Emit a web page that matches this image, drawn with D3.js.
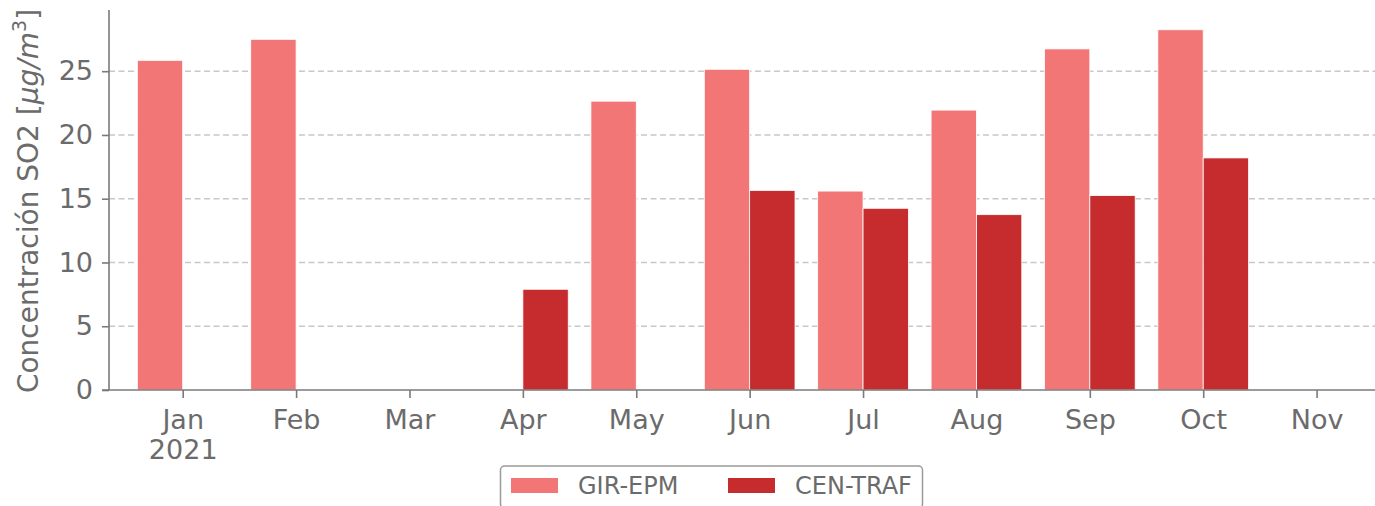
<!DOCTYPE html>
<html>
<head>
<meta charset="utf-8">
<script src="https://d3js.org/d3.v7.min.js"></script>
<style>
  body { margin: 0; background: #fff; }
  text { font-family: "DejaVu Sans", sans-serif; fill: #6b6b6b; }
</style>
</head>
<body>
<svg width="1375" height="506"></svg>
<script>
// monthly SO2 means per station, null = no data
var months = ["Jan", "Feb", "Mar", "Apr", "May", "Jun", "Jul", "Aug", "Sep", "Oct", "Nov"];
var girEpm  = [25.85, 27.5, null, null, 22.65, 25.15, 15.6, 21.95, 26.75, 28.25, null];
var cenTraf = [null, null, null, 7.9, null, 15.65, 14.25, 13.75, 15.25, 18.2, null];
var yTicks = [0, 5, 10, 15, 20, 25];
var seriesNames = ["GIR-EPM", "CEN-TRAF"];
var seriesColors = ["#f37676", "#c62c2d"];

var svg = d3.select("svg");
var plotL = 109, plotR = 1375, plotT = 10, plotB = 390;

// month index -> pixel (categorical spacing)
var x = d3.scaleLinear().domain([-0.65, 10.515]).range([plotL, plotR]);
var y = d3.scaleLinear().domain([0, 29.8]).range([plotB, plotT]);
var barW = 0.4;

// grid
svg.append("g").selectAll("line").data(yTicks.slice(1)).enter().append("line")
    .attr("x1", plotL).attr("x2", plotR)
    .attr("y1", function (d) { return y(d); }).attr("y2", function (d) { return y(d); })
    .attr("stroke", "#c8c8c8").attr("stroke-width", 1.5)
    .attr("stroke-dasharray", "6,3.5");

// bars
[girEpm, cenTraf].forEach(function (vals, s) {
    svg.append("g").selectAll("rect")
        .data(vals.map(function (v, i) { return {i: i, v: v}; }).filter(function (d) { return d.v != null; }))
        .enter().append("rect")
        .attr("x", function (d) { return x(d.i + (s === 0 ? -barW : 0)); })
        .attr("width", x(barW) - x(0))
        .attr("y", function (d) { return y(d.v); })
        .attr("height", function (d) { return y(0) - y(d.v); })
        .attr("fill", seriesColors[s])
        .attr("stroke", "#fff").attr("stroke-width", 0.8);
});

// axes
var yAxis = svg.append("g").attr("transform", "translate(" + plotL + ",0)")
    .call(d3.axisLeft(y).tickValues(yTicks).tickSize(7).tickPadding(9));
var xAxis = svg.append("g").attr("transform", "translate(0," + plotB + ")")
    .call(d3.axisBottom(x).tickValues(d3.range(months.length)).tickSize(8).tickPadding(12)
        .tickFormat(function (i) { return months[i]; }));

[yAxis, xAxis].forEach(function (a) {
    a.selectAll(".domain").attr("stroke", "#7a7a7a").attr("stroke-width", 1.6);
    a.selectAll(".tick line").attr("stroke", "#7a7a7a").attr("stroke-width", 1.6);
    a.selectAll("text").attr("font-family", "DejaVu Sans").attr("font-size", 27).attr("fill", "#6b6b6b");
});
yAxis.select(".domain").attr("d", "M0," + plotT + "V" + plotB);
xAxis.select(".domain").attr("d", "M" + (plotL - 7) + ",0H" + plotR);

// year under first month
xAxis.select(".tick text")
    .append("tspan").attr("x", 0).attr("dy", "1.12em").text("2021");

// y label
var yl = svg.append("text")
    .attr("transform", "translate(38," + (plotT + plotB + 2) / 2 + ") rotate(-90)")
    .attr("text-anchor", "middle").attr("font-size", 28);
yl.append("tspan").text("Concentración SO2 [");
yl.append("tspan").attr("font-style", "italic").text("μg/m");
yl.append("tspan").attr("font-size", 19).attr("dy", -12).text("3");
yl.append("tspan").attr("dy", 12).text("]");

// legend
var lg = svg.append("g");
lg.append("rect").attr("x", 500.5).attr("y", 466).attr("width", 422).attr("height", 42)
    .attr("rx", 4).attr("fill", "#fff").attr("stroke", "#9a9a9a").attr("stroke-width", 1.5);
var legX = [511, 728];
seriesNames.forEach(function (n, s) {
    lg.append("rect").attr("x", legX[s]).attr("y", 478).attr("width", 47).attr("height", 15)
        .attr("fill", seriesColors[s]);
    lg.append("text").attr("x", legX[s] + 67).attr("y", 494).attr("font-size", 24).text(n);
});
</script>
</body>
</html>
